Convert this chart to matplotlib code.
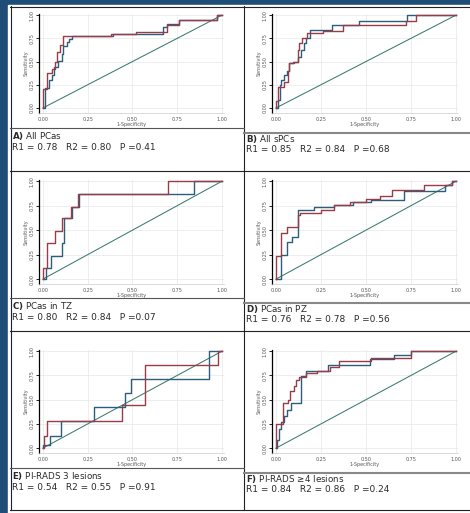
import matplotlib
matplotlib.use("Agg")
import matplotlib.pyplot as plt
from matplotlib.lines import Line2D
from matplotlib.patches import Rectangle

W, H = 470, 513

# ROC corner points (fpr, tpr), reader 1 = navy, reader 2 = maroon
a_r1_fpr = [0, 0.01, 0.035, 0.05, 0.063, 0.086, 0.105, 0.114, 0.133, 0.143, 0.162, 0.20, 0.39, 0.67, 0.69, 0.76, 0.97, 1.0]
a_r1_tpr = [0, 0.21, 0.30, 0.35, 0.44, 0.51, 0.58, 0.67, 0.71, 0.74, 0.77, 0.78, 0.80, 0.87, 0.90, 0.95, 1.0, 1.0]
a_r2_fpr = [0, 0, 0.02, 0.048, 0.067, 0.076, 0.095, 0.114, 0.25, 0.38, 0.52, 0.69, 0.76, 0.97, 1.0]
a_r2_tpr = [0, 0.20, 0.38, 0.42, 0.50, 0.60, 0.68, 0.77, 0.78, 0.80, 0.82, 0.89, 0.95, 1.0, 1.0]

b_r1_fpr = [0, 0.01, 0.02, 0.03, 0.045, 0.06, 0.075, 0.095, 0.125, 0.14, 0.155, 0.165, 0.19, 0.31, 0.46, 0.73, 1.0]
b_r1_tpr = [0, 0.09, 0.25, 0.30, 0.35, 0.40, 0.48, 0.50, 0.55, 0.62, 0.70, 0.75, 0.84, 0.89, 0.94, 1.0, 1.0]
b_r2_fpr = [0, 0, 0.01, 0.045, 0.065, 0.075, 0.10, 0.12, 0.13, 0.145, 0.17, 0.26, 0.375, 0.72, 0.78, 1.0]
b_r2_tpr = [0, 0.08, 0.23, 0.28, 0.40, 0.48, 0.50, 0.62, 0.70, 0.75, 0.81, 0.83, 0.89, 0.94, 1.0, 1.0]

c_r1_fpr = [0, 0.015, 0.046, 0.106, 0.12, 0.164, 0.20, 0.845, 1.0]
c_r1_tpr = [0, 0.11, 0.24, 0.365, 0.62, 0.74, 0.87, 1.0, 1.0]
c_r2_fpr = [0, 0, 0.024, 0.066, 0.106, 0.157, 0.197, 0.70, 1.0]
c_r2_tpr = [0, 0.11, 0.365, 0.49, 0.62, 0.74, 0.87, 1.0, 1.0]

d_r1_fpr = [0, 0.027, 0.064, 0.09, 0.12, 0.21, 0.32, 0.43, 0.53, 0.71, 0.94, 0.98, 1.0]
d_r1_tpr = [0, 0.25, 0.38, 0.43, 0.71, 0.74, 0.76, 0.79, 0.81, 0.90, 0.96, 1.0, 1.0]
d_r2_fpr = [0, 0, 0.027, 0.064, 0.12, 0.136, 0.25, 0.32, 0.41, 0.50, 0.58, 0.645, 0.82, 0.98, 1.0]
d_r2_tpr = [0, 0.24, 0.47, 0.53, 0.65, 0.68, 0.71, 0.76, 0.79, 0.82, 0.85, 0.91, 0.96, 1.0, 1.0]

e_r1_fpr = [0, 0, 0.037, 0.10, 0.287, 0.457, 0.494, 0.93, 1.0]
e_r1_tpr = [0, 0.03, 0.13, 0.28, 0.42, 0.57, 0.71, 1.0, 1.0]
e_r2_fpr = [0, 0.004, 0.02, 0.44, 0.57, 0.98, 1.0]
e_r2_tpr = [0, 0.13, 0.28, 0.44, 0.855, 1.0, 1.0]

f_r1_fpr = [0, 0.005, 0.015, 0.028, 0.046, 0.06, 0.083, 0.14, 0.166, 0.29, 0.52, 0.655, 0.75, 1.0]
f_r1_tpr = [0, 0.08, 0.20, 0.27, 0.33, 0.39, 0.47, 0.74, 0.80, 0.86, 0.92, 0.96, 1.0, 1.0]
f_r2_fpr = [0, 0, 0.04, 0.065, 0.08, 0.10, 0.11, 0.13, 0.166, 0.23, 0.30, 0.35, 0.53, 0.75, 1.0]
f_r2_tpr = [0, 0.25, 0.47, 0.50, 0.59, 0.64, 0.70, 0.73, 0.78, 0.80, 0.84, 0.90, 0.93, 1.0, 1.0]

letters = ["A)", "B)", "C)", "D)", "E)", "F)"]
titles = ["All PCas", "All sPCs", "PCas in TZ", "PCas in PZ", "PI-RADS 3 lesions", "PI-RADS \u22654 lesions"]
r1_auc = [0.78, 0.85, 0.80, 0.76, 0.54, 0.84]
r2_auc = [0.80, 0.84, 0.84, 0.78, 0.55, 0.86]
p_vals = [0.41, 0.68, 0.07, 0.56, 0.91, 0.24]

curves = [
    (a_r1_fpr, a_r1_tpr, a_r2_fpr, a_r2_tpr),
    (b_r1_fpr, b_r1_tpr, b_r2_fpr, b_r2_tpr),
    (c_r1_fpr, c_r1_tpr, c_r2_fpr, c_r2_tpr),
    (d_r1_fpr, d_r1_tpr, d_r2_fpr, d_r2_tpr),
    (e_r1_fpr, e_r1_tpr, e_r2_fpr, e_r2_tpr),
    (f_r1_fpr, f_r1_tpr, f_r2_fpr, f_r2_tpr),
]

NAVY = "#2b5d7c"
MAROON = "#9a3c48"
DIAG = "#3a7a72"

fig = plt.figure(figsize=(W / 100, H / 100), dpi=100)
fig.patch.set_facecolor("#1e4d78")


def fx(x):
    return x / W


def fy(y):
    return 1 - y / H


def hline(y, x0, x1, color="#222222", lw=0.8):
    fig.add_artist(Line2D([fx(x0), fx(x1)], [fy(y), fy(y)], color=color, lw=lw))


def vline(x, y0, y1, color="#222222", lw=0.8):
    fig.add_artist(Line2D([fx(x), fx(x)], [fy(y0), fy(y1)], color=color, lw=lw))


# white panel and table frame
fig.add_artist(Rectangle((fx(8), 0), 1 - fx(8), fy(5), color="white", zorder=0))
hline(6.5, 10, 470)
vline(10.5, 6, 510)
vline(244, 6, 510)
hline(510, 10, 470)
hline(171, 10, 470)
hline(331, 10, 470)

col_x = [(39, 224), (272, 458)]
row_y = [(14, 112.6), (180, 284), (350, 453)]
ticks = [0, 0.25, 0.5, 0.75, 1.0]
ticklabels = ["0.00", "0.25", "0.50", "0.75", "1.00"]

for i, (r1x, r1y, r2x, r2y) in enumerate(curves):
    row, col = divmod(i, 2)
    left, right = col_x[col]
    top, bottom = row_y[row]
    ax = fig.add_axes([fx(left), fy(bottom), (right - left) / W, (bottom - top) / H])
    ax.plot([0, 1], [0, 1], color=DIAG, lw=0.75)
    ax.plot(r1x, r1y, drawstyle="steps-post", color=NAVY, lw=1.0)
    ax.plot(r2x, r2y, drawstyle="steps-post", color=MAROON, lw=1.0)
    ax.set_xlim(-0.022, 1.011)
    ax.set_ylim(-0.05, 1.012)
    ax.set_xticks(ticks)
    ax.set_xticklabels(ticklabels)
    ax.set_yticks(ticks)
    ax.set_yticklabels(ticklabels, rotation=90, va="center")
    ax.tick_params(axis="x", length=0, pad=3, labelsize=3.5, labelcolor="#555555")
    ax.tick_params(axis="y", length=2, width=0.6, pad=1, labelsize=3.5, labelcolor="#555555")
    ax.grid(True, color="#e8e8e8", lw=0.5)
    ax.set_axisbelow(True)
    for s in ["top", "right"]:
        ax.spines[s].set_visible(False)
    ax.spines["left"].set_color("black")
    ax.spines["left"].set_linewidth(0.9)
    ax.spines["bottom"].set_color("#cccccc")
    ax.spines["bottom"].set_linewidth(0.5)
    ax.set_xlabel("1-Specificity", fontsize=3.5, color="#555555", labelpad=0)
    ax.set_ylabel("Sensitivity", fontsize=3.5, color="#555555", labelpad=1)

    # caption
    if col == 0:
        tx, sep, t1, t2 = 12, 128, 136, 148
        hline(sep + 170 * row, 10, 244, color="#555555", lw=0.8)
    else:
        tx, sep, t1, t2 = 246, 133, 139, 150
        hline(sep + 170 * row, 244, 470, color="#888888", lw=1.5)
    fig.text(fx(tx), fy(t1 + 170 * row), r"$\mathbf{" + letters[i][0] + ")}$ " + titles[i],
             fontsize=6.3, color="#2a2a2a", va="center", ha="left")
    fig.text(fx(tx), fy(t2 + 170 * row),
             f"R1 = {r1_auc[i]:.2f}   R2 = {r2_auc[i]:.2f}   P ={p_vals[i]:.2f}",
             fontsize=6.5, color="#2a2a2a", va="center", ha="left")

fig.savefig("out.png", dpi=100, facecolor=fig.get_facecolor())
